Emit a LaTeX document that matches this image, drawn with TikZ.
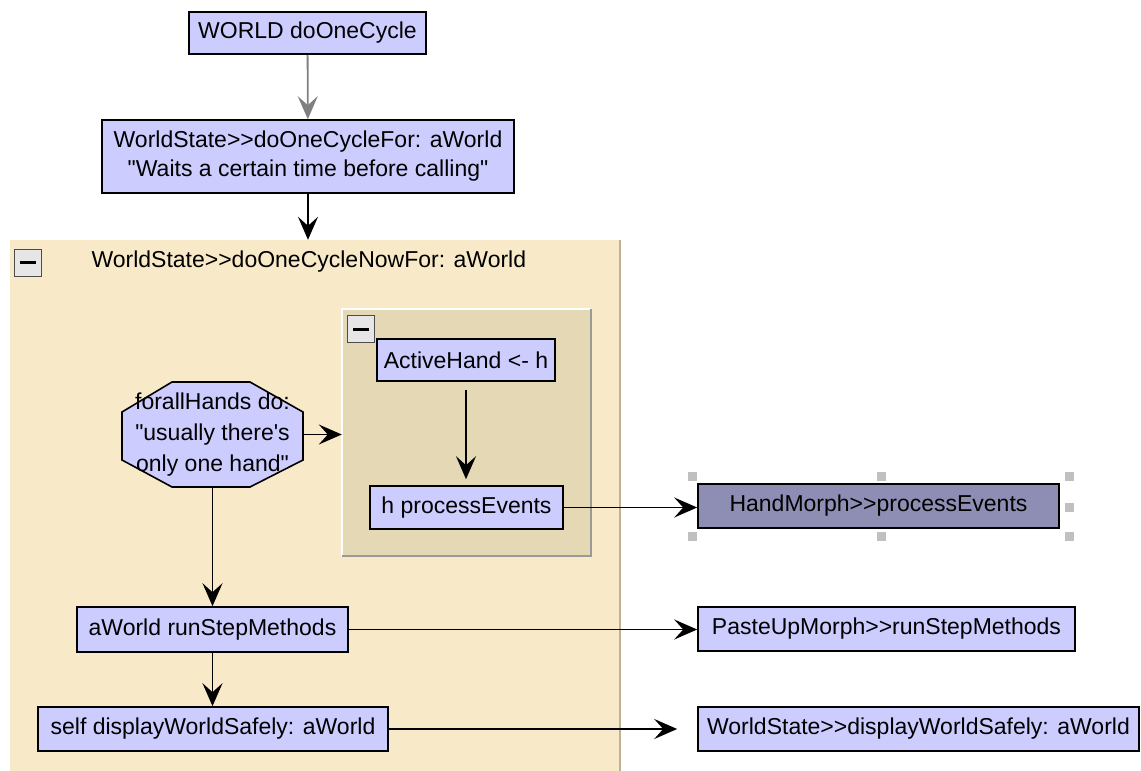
\documentclass[tikz,border=0pt]{standalone}
\usepackage{fontspec}
\setmainfont{Liberation Sans}
\usetikzlibrary{arrows.meta,calc}
\definecolor{nodefill}{RGB}{204,204,255}
\definecolor{selfill}{RGB}{142,142,181}
\definecolor{outerbg}{RGB}{248,234,201}
\definecolor{outeredge}{RGB}{190,178,150}
\definecolor{innerbg}{RGB}{228,216,181}
\definecolor{btnfill}{RGB}{230,230,230}
\definecolor{handlegray}{RGB}{192,192,192}
\definecolor{linkgray}{RGB}{128,128,128}

\begin{document}
\begin{tikzpicture}[x=1pt,y=-1pt,
  every node/.style={font=\fontsize{23}{30}\selectfont, text=black},
  msg/.style={draw=black, line width=1.6pt, fill=nodefill, inner sep=0pt,
              minimum height=44pt, align=center},
  selmsg/.style={msg, fill=selfill},
  link/.style={line width=1.8pt, -{Stealth[length=23pt,width=20pt,inset=9pt]}},
  btn/.style={draw=gray!60!black, line width=1pt, fill=btnfill, inner sep=0pt,
              minimum size=27pt},
  handle/.style={fill=handlegray, inner sep=0pt, minimum size=9pt},
  panel/.style={inner sep=0pt}]

\useasboundingbox[fill=white] (0,0) rectangle (1141,771);

% outer block: doOneCycleNowFor
\node[panel, fill=outerbg, minimum width=610pt, minimum height=531pt] (nowfor) at (315,505.5) {};
\draw[outeredge, line width=1.5pt] (nowfor.north east) -- (nowfor.south east);
\node[btn] (outerbtn) at (28,262.5) {\rule{16pt}{3pt}};
\node[anchor=west] (nowtitle) at (88,262) {WorldState>{}>doOneCycleNowFor: aWorld};

% inner block: loop over hands
\node[panel, fill=innerbg, minimum width=249pt, minimum height=247pt] (handloop) at (466.5,432.5) {};
\draw[white, line width=1.5pt] (handloop.south west) -- (handloop.north west) -- (handloop.north east);
\draw[gray!80, line width=1.5pt] (handloop.north east) -- (handloop.south east) -- (handloop.south west);
\node[btn] (innerbtn) at (361,329) {\rule{16pt}{3pt}};

% top of the call chain
\node[msg, minimum width=237pt, minimum height=42pt] (top) at (307.5,33) {WORLD doOneCycle};
\node[msg, minimum width=412pt, minimum height=73pt, font=\fontsize{23}{29}\selectfont] (cyclefor) at (308,156.5)
  {WorldState>{}>doOneCycleFor: aWorld\\\textquotedbl Waits a certain time before calling\textquotedbl};

% octagonal loop node
\draw[line width=1.6pt, fill=nodefill]
  (172,382) -- (250,382) -- (303,412) -- (303,460) -- (250,487) -- (172,487) -- (122,460) -- (122,412) -- cycle;
\node[inner sep=0pt, minimum width=181pt, minimum height=105pt, align=center,
      font=\fontsize{23}{31}\selectfont] (hands) at (212.5,434.5)
  {forallHands do:\\\textquotedbl usually there\textquotesingle s\\only one hand\textquotedbl};

% statements inside the blocks
\node[msg, minimum width=178pt, minimum height=42pt] (active) at (466,360) {ActiveHand <- h};
\node[msg, minimum width=193pt, minimum height=43pt] (hproc) at (466.5,507.5) {h processEvents};
\node[msg, minimum width=271pt, minimum height=45pt] (runstep) at (212.5,629.5) {aWorld runStepMethods};
\node[msg, minimum width=350pt] (selfdisp) at (213,729) {self displayWorldSafely: aWorld};

% implementors
\node[selmsg, minimum width=361pt] (hand) at (878.5,506) {HandMorph>{}>processEvents};
\node[msg, minimum width=377pt] (paste) at (886.5,629) {PasteUpMorph>{}>runStepMethods};
\node[msg, minimum width=441pt] (wsdisp) at (918.5,729) {WorldState>{}>displayWorldSafely: aWorld};

% selection handles round the selected node
\node[handle] (h1) at (692,476) {};
\node[handle] (h2) at (881,476) {};
\node[handle] (h3) at (1069,476) {};
\node[handle] (h4) at (1069,507) {};
\node[handle] (h5) at (692,536) {};
\node[handle] (h6) at (881,536) {};
\node[handle] (h7) at (1069,536) {};

% connectors
\draw[link, draw=linkgray, color=linkgray] (top) -- (cyclefor);
\draw[link] (cyclefor.south) -- (cyclefor.south |- nowfor.north);
\draw[link] (hands.east) -- (hands.east -| handloop.west);
\draw[link] (hands.south) -- (hands.south |- runstep.north);
\draw[link] (runstep.south) -- (runstep.south |- selfdisp.north);
\draw[link, shorten <=8pt, shorten >=6pt] (active.south) -- (active.south |- hproc.north);
\draw[link] (hproc.east) -- (hproc.east -| hand.west);
\draw[link] (runstep.east) -- (runstep.east -| paste.west);
\draw[link, shorten >=20pt] (selfdisp.east) -- (selfdisp.east -| wsdisp.west);

\end{tikzpicture}
\end{document}
